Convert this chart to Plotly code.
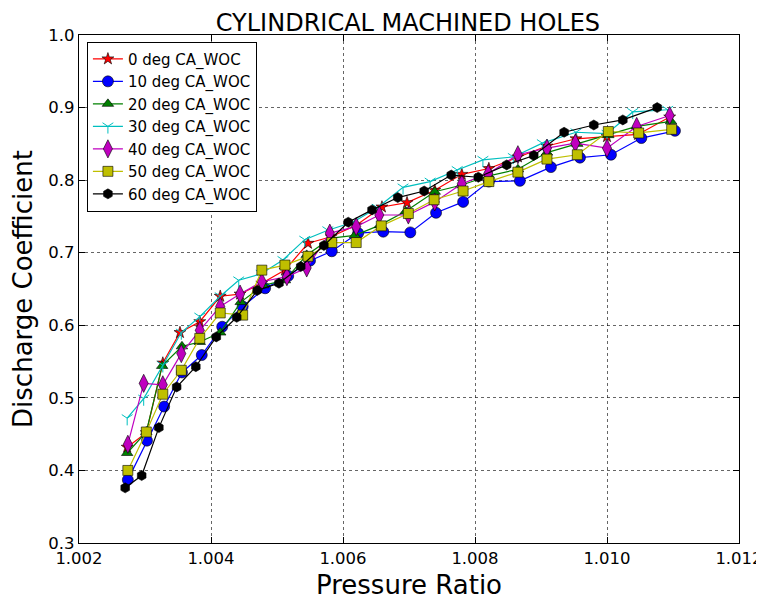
import plotly.graph_objects as go

# Pressure ratios and discharge coefficients per series
x_0deg = [1.00273, 1.00302, 1.00327, 1.00353, 1.00383, 1.00414, 1.00444, 1.00477, 1.00512, 1.00547, 1.00582, 1.00620, 1.00659, 1.00697, 1.00739, 1.00780, 1.00821, 1.00865, 1.00909, 1.00953, 1.01000, 1.01047, 1.01095]
y_0deg = [0.432, 0.452, 0.548, 0.590, 0.605, 0.640, 0.643, 0.658, 0.676, 0.713, 0.722, 0.738, 0.763, 0.769, 0.786, 0.808, 0.816, 0.832, 0.847, 0.857, 0.860, 0.863, 0.887]

x_10deg = [1.00274, 1.00303, 1.00329, 1.00356, 1.00386, 1.00417, 1.00448, 1.00482, 1.00517, 1.00550, 1.00583, 1.00623, 1.00661, 1.00702, 1.00741, 1.00782, 1.00821, 1.00868, 1.00915, 1.00959, 1.01006, 1.01052, 1.01103]
y_10deg = [0.387, 0.441, 0.488, 0.535, 0.559, 0.598, 0.626, 0.651, 0.668, 0.689, 0.702, 0.727, 0.729, 0.728, 0.755, 0.770, 0.798, 0.799, 0.818, 0.831, 0.835, 0.858, 0.868]

x_20deg = [1.00273, 1.00302, 1.00326, 1.00356, 1.00383, 1.00414, 1.00445, 1.00479, 1.00512, 1.00545, 1.00582, 1.00618, 1.00656, 1.00695, 1.00739, 1.00779, 1.00821, 1.00865, 1.00909, 1.00955, 1.01002, 1.01045, 1.01097]
y_20deg = [0.424, 0.453, 0.544, 0.571, 0.577, 0.590, 0.632, 0.655, 0.662, 0.697, 0.720, 0.724, 0.738, 0.757, 0.784, 0.793, 0.806, 0.815, 0.838, 0.850, 0.862, 0.874, 0.881]

x_30deg = [1.00273, 1.00298, 1.00327, 1.00355, 1.00383, 1.00414, 1.00442, 1.00476, 1.00509, 1.00542, 1.00577, 1.00615, 1.00652, 1.00691, 1.00732, 1.00773, 1.00812, 1.00858, 1.00902, 1.00953, 1.01000, 1.01039, 1.01092]
y_30deg = [0.472, 0.499, 0.545, 0.590, 0.612, 0.640, 0.662, 0.671, 0.690, 0.718, 0.731, 0.742, 0.762, 0.790, 0.798, 0.814, 0.828, 0.832, 0.851, 0.866, 0.864, 0.894, 0.897]

x_40deg = [1.00274, 1.00298, 1.00327, 1.00355, 1.00383, 1.00414, 1.00444, 1.00477, 1.00515, 1.00545, 1.00580, 1.00620, 1.00655, 1.00699, 1.00739, 1.00780, 1.00820, 1.00865, 1.00909, 1.00952, 1.01000, 1.01045, 1.01095]
y_40deg = [0.436, 0.520, 0.518, 0.561, 0.593, 0.626, 0.643, 0.660, 0.667, 0.679, 0.727, 0.736, 0.752, 0.752, 0.770, 0.795, 0.809, 0.835, 0.844, 0.851, 0.844, 0.874, 0.889]

x_50deg = [1.00274, 1.00302, 1.00327, 1.00355, 1.00383, 1.00414, 1.00448, 1.00477, 1.00512, 1.00547, 1.00583, 1.00620, 1.00658, 1.00699, 1.00738, 1.00782, 1.00821, 1.00865, 1.00909, 1.00955, 1.01002, 1.01048, 1.01098]
y_50deg = [0.400, 0.453, 0.505, 0.538, 0.582, 0.617, 0.614, 0.676, 0.683, 0.695, 0.714, 0.714, 0.737, 0.754, 0.773, 0.785, 0.798, 0.811, 0.829, 0.835, 0.867, 0.865, 0.870]

x_60deg = [1.00270, 1.00295, 1.00321, 1.00348, 1.00377, 1.00408, 1.00439, 1.00470, 1.00503, 1.00536, 1.00571, 1.00608, 1.00644, 1.00683, 1.00723, 1.00764, 1.00805, 1.00848, 1.00889, 1.00935, 1.00980, 1.01024, 1.01076]
y_60deg = [0.376, 0.393, 0.459, 0.515, 0.543, 0.584, 0.611, 0.648, 0.658, 0.681, 0.710, 0.742, 0.759, 0.776, 0.785, 0.807, 0.804, 0.821, 0.834, 0.866, 0.876, 0.883, 0.900]

series_names = ["0 deg CA_WOC", "10 deg CA_WOC", "20 deg CA_WOC", "30 deg CA_WOC",
                "40 deg CA_WOC", "50 deg CA_WOC", "60 deg CA_WOC"]
x_tick_vals = [1.002, 1.004, 1.006, 1.008, 1.010, 1.012]
x_tick_text = ["1.002", "1.004", "1.006", "1.008", "1.010", "1.012"]
y_tick_vals = [0.3, 0.4, 0.5, 0.6, 0.7, 0.8, 0.9, 1.0]
y_tick_text = ["0.3", "0.4", "0.5", "0.6", "0.7", "0.8", "0.9", "1.0"]

xs = [x_0deg, x_10deg, x_20deg, x_30deg, x_40deg, x_50deg, x_60deg]
ys = [y_0deg, y_10deg, y_20deg, y_30deg, y_40deg, y_50deg, y_60deg]
colors = ["#ff0000", "#0000ff", "#008000", "#00bfbf", "#bf00bf", "#bfbf00", "#000000"]
symbols = ["star", "circle", "triangle-up", "y-down-open", "diamond-tall", "square", "hexagon"]
sizes = [9, 11, 10, 9, 13, 10, 10]

fig = go.Figure()
for name, x, y, c, s, sz in zip(series_names, xs, ys, colors, symbols, sizes):
    if s.startswith("y-"):
        marker = dict(symbol=s, size=sz, color=c, line=dict(color=c, width=1))
    else:
        marker = dict(symbol=s, size=sz, color=c, line=dict(color="black", width=0.6))
    fig.add_trace(go.Scatter(x=x, y=y, mode="lines+markers", name=name,
                             line=dict(color=c, width=1.2), marker=marker))

axis_common = dict(showline=True, linecolor="black", linewidth=1.2, mirror="ticks",
                   ticks="inside", ticklen=6, tickcolor="black", automargin=False,
                   showgrid=True, gridcolor="rgba(0,0,0,0.6)", griddash="dot", gridwidth=1,
                   zeroline=False, tickfont=dict(family="DejaVu Sans", size=16.5, color="black"))

# page body has an 8px margin, so the figure is sized/placed to compensate
fig.update_layout(
    width=756, height=593,
    margin=dict(l=71, r=25, t=27, b=58, autoexpand=False),
    paper_bgcolor="white", plot_bgcolor="white",
    font=dict(family="DejaVu Sans", color="black"),
    title=dict(text="CYLINDRICAL MACHINED HOLES", x=0.529, xanchor="center",
               y=0.975, yanchor="middle", font=dict(size=24, color="black"), automargin=False),
    xaxis=dict(range=[1.002, 1.012], tickvals=x_tick_vals, ticktext=x_tick_text,
               title=dict(text="Pressure Ratio", font=dict(size=26), standoff=8), **axis_common),
    yaxis=dict(range=[0.3, 1.0], tickvals=y_tick_vals, ticktext=y_tick_text,
               title=dict(text="Discharge Coefficient", font=dict(size=26), standoff=8), **axis_common),
    legend=dict(x=0.012, y=0.987, xanchor="left", yanchor="top",
                bgcolor="white", bordercolor="black", borderwidth=1,
                font=dict(family="DejaVu Sans", size=15, color="black"),
                tracegroupgap=0, itemwidth=30),
    showlegend=True,
)

fig.write_html("out.html")
